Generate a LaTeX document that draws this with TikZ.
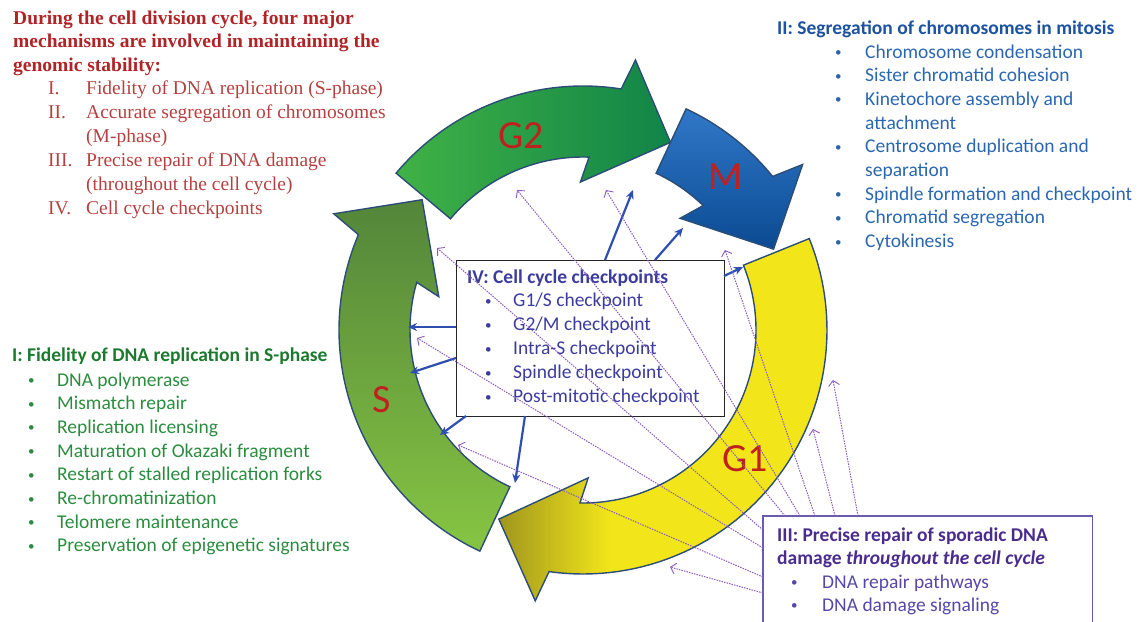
\documentclass[tikz,border=0pt]{standalone}
\usepackage{fontspec}
\setmainfont{Liberation Serif}
\newfontfamily\cf{Carlito}
\usetikzlibrary{arrows.meta}
\definecolor{ringline}{HTML}{2C4D75}
\definecolor{sTop}{HTML}{54853A}
\definecolor{sBot}{HTML}{86C543}
\definecolor{gtwoL}{HTML}{40B245}
\definecolor{gtwoR}{HTML}{118449}
\definecolor{mTop}{HTML}{3078C8}
\definecolor{mBot}{HTML}{0B4A92}
\definecolor{gOlive}{HTML}{A0961E}
\definecolor{gYel}{HTML}{F2E61A}
\definecolor{lblred}{HTML}{C0201E}
\definecolor{redtitle}{HTML}{B02428}
\definecolor{redlist}{HTML}{B3413F}
\definecolor{bluetitle}{HTML}{1C52A0}
\definecolor{bluelist}{HTML}{2A67B0}
\definecolor{greentitle}{HTML}{1C7A2E}
\definecolor{greenlist}{HTML}{2B8C3F}
\definecolor{ivtext}{HTML}{3C3C9E}
\definecolor{iiitext}{HTML}{4A2C8C}
\definecolor{iiilist}{HTML}{5548A8}
\definecolor{iiibox}{HTML}{6A5CB0}
\definecolor{chkblue}{HTML}{2F4FB0}
\definecolor{dmgpurple}{HTML}{8A5CC0}
\pgfdeclarehorizontalshading{gonesh}{100bp}{color(0bp)=(gOlive); color(25bp)=(gOlive); color(42bp)=(gYel); color(100bp)=(gYel)}
\newcommand\ringarrow[3]{%
  \pgfmathsetmacro\ra{#2-16}\pgfmathsetmacro\rb{#2-14}%
  \pgfmathsetmacro\rc{#2-26}\pgfmathsetmacro\rd{#2-23}%
  \path[#3] (#1:244) -- plot[domain=#1:\ra, samples=60] (\x:244) -- (\rb:275) -- (#2:207)
    -- (\rc:148) -- (\rd:173) -- plot[domain=\rd:#1, samples=60] (\x:173) -- cycle;}
\newcommand\smallbullet{{\fontsize{13}{13}\selectfont\raisebox{1.5pt}{\textbullet}}}
\begin{document}
\begin{tikzpicture}[x=1pt,y=-1pt,
  ring/.style={draw=ringline, line width=1.4pt, line join=miter},
  lbl/.style={font=\cf\fontsize{40}{44}\selectfont, text=lblred, inner sep=0pt},
  ln/.style={anchor=base west, inner sep=0pt, font=\cf\fontsize{19.5}{23.7}\selectfont},
  lnb/.style={anchor=base west, inner sep=0pt, font=\cf\bfseries\fontsize{19.5}{23.7}\selectfont},
  rln/.style={anchor=base west, inner sep=0pt, font=\fontsize{19.5}{23.7}\selectfont, text=redlist},
  rlnb/.style={anchor=base west, inner sep=0pt, font=\bfseries\fontsize{19.5}{23.7}\selectfont, text=redtitle},
  chk/.style={draw=chkblue, line width=2.2pt, -{Stealth[length=9pt,width=8pt]}},
  dmg/.style={draw=dmgpurple, line width=1pt, dash pattern=on 1.5pt off 1.1pt,
    -{Straight Barb[length=5pt,width=11pt,line width=0.9pt]}}]
\useasboundingbox (0,0) rectangle (1139,621);

% ---- cycle arrows
\begin{scope}[shift={(583,330)}]
  \ringarrow{338}{474}{ring, shading=gonesh}
  \ringarrow{115}{219}{ring, top color=sTop, bottom color=sBot}
  \ringarrow{220}{295}{ring, left color=gtwoL, right color=gtwoR}
  \ringarrow{295}{337}{ring, top color=mTop, bottom color=mBot}
\end{scope}
\node[lbl] (lS) at (382,400) {S};
\node[lbl] (lG2) at (521,136) {G2};
\node[lbl] (lM) at (726,177) {M};
\node[lbl] (lG1) at (745,459) {G1};

% ---- top-left red text
\node[rlnb] (rt1) at (13,24) {During the cell division cycle, four major};
\node[rlnb] (rt2) at (13,47.5) {mechanisms are involved in maintaining the};
\node[rlnb] (rt3) at (13,71) {genomic stability:};
\node[rln] (rn1) at (48,94) {I.};
\node[rln] (rl1) at (86,94) {Fidelity of DNA replication (S-phase)};
\node[rln] (rn2) at (48,118) {II.};
\node[rln] (rl2) at (86,118) {Accurate segregation of chromosomes};
\node[rln] (rl3) at (86,142) {(M-phase)};
\node[rln] (rn3) at (48,166) {III.};
\node[rln] (rl4) at (86,166) {Precise repair of DNA damage};
\node[rln] (rl5) at (86,190) {(throughout the cell cycle)};
\node[rln] (rn4) at (48,214) {IV.};
\node[rln] (rl6) at (86,214) {Cell cycle checkpoints};

% ---- top-right blue text
\node[lnb, text=bluetitle] (bt) at (777,34) {II: Segregation of chromosomes in mitosis};
\foreach \t/\b [count=\i from 0] in {Chromosome condensation/1, Sister chromatid cohesion/1,
  Kinetochore assembly and/1, attachment/0, Centrosome duplication and/1, separation/0,
  Spindle formation and checkpoint/1, Chromatid segregation/1, Cytokinesis/1}{
  \pgfmathsetmacro\yy{58+23.7*\i}
  \ifnum\b=1 \node[ln, text=bluelist] (bb\i) at (835,\yy) {\smallbullet};\fi
  \node[ln, text=bluelist] (bi\i) at (865,\yy) {\t};
}

% ---- left green text
\node[lnb, text=greentitle] (gt) at (12,361) {I: Fidelity of DNA replication in S-phase};
\foreach \t [count=\i from 0] in {DNA polymerase, Mismatch repair, Replication licensing,
  Maturation of Okazaki fragment, Restart of stalled replication forks, Re-chromatinization,
  Telomere maintenance, Preservation of epigenetic signatures}{
  \pgfmathsetmacro\yy{386+23.7*\i}
  \node[ln, text=greenlist] (gb\i) at (28,\yy) {\smallbullet};
  \node[ln, text=greenlist] (gi\i) at (57,\yy) {\t};
}

% ---- box IV
\node[draw=black!85, line width=1.3pt, fill=white, minimum width=268, minimum height=156,
  anchor=north west, inner sep=0pt] (boxIV) at (456,260) {};
\node[lnb, text=ivtext] (ivt) at (467,283) {IV: Cell cycle checkpoints};
\foreach \t [count=\i from 0] in {G1/S checkpoint, G2/M checkpoint, Intra-S checkpoint,
  Spindle checkpoint, Post-mitotic checkpoint}{
  \pgfmathsetmacro\yy{306.5+24*\i}
  \node[ln, text=ivtext] (cb\i) at (485,\yy) {\smallbullet};
  \node[ln, text=ivtext] (ci\i) at (513,\yy) {\t};
}

% ---- box III
\node[minimum width=329, minimum height=107, anchor=north west, inner sep=0pt] (boxIII) at (763,516) {};
\draw[iiibox, line width=1.3pt] (boxIII.south west) -- (boxIII.north west) -- (boxIII.north east) -- (boxIII.south east);
\node[lnb, text=iiitext] (it1) at (777,541) {III: Precise repair of sporadic DNA};
\node[lnb, text=iiitext] (it2) at (777,564) {damage \textit{throughout the cell cycle}};
\node[ln, text=iiilist] (ib1) at (791,588) {\smallbullet};
\node[ln, text=iiilist] (ii1) at (822,588) {DNA repair pathways};
\node[ln, text=iiilist] (ib2) at (791,611) {\smallbullet};
\node[ln, text=iiilist] (ii2) at (822,611) {DNA damage signaling};

% ---- checkpoint arrows
\coordinate (k1s) at (605,260); \coordinate (k1e) at (633,190);
\coordinate (k2s) at (655,260); \coordinate (k2e) at (683,228);
\coordinate (k3s) at (724,276); \coordinate (k3e) at (743,267);
\coordinate (k4s) at (456,327); \coordinate (k4e) at (408,327);
\coordinate (k5s) at (456,358); \coordinate (k5e) at (410,373);
\coordinate (k6s) at (466,416); \coordinate (k6e) at (440,435);
\coordinate (k7s) at (525,416); \coordinate (k7e) at (515,483);
\foreach \k in {1,...,7}{\draw[chk] (k\k s) -- (k\k e);}

% ---- DNA damage repair arrows
\coordinate (dAs) at (785,516); \coordinate (dAe) at (517,190);
\coordinate (dBs) at (800,516); \coordinate (dBe) at (606,190);
\coordinate (dCs) at (763,530); \coordinate (dCe) at (437,248);
\coordinate (dDs) at (763,548); \coordinate (dDe) at (417,338);
\coordinate (dEs) at (763,577); \coordinate (dEe) at (458,445);
\coordinate (dFs) at (815,516); \coordinate (dFe) at (725,250);
\coordinate (dGs) at (835,516); \coordinate (dGe) at (813,429);
\coordinate (dHs) at (858,516); \coordinate (dHe) at (833,380);
\coordinate (dIs) at (763,593); \coordinate (dIe) at (670,567);
\foreach \d in {A,B,C,D,E,F,G,H,I}{\draw[dmg] (d\d s) -- (d\d e);}
\end{tikzpicture}
\end{document}
